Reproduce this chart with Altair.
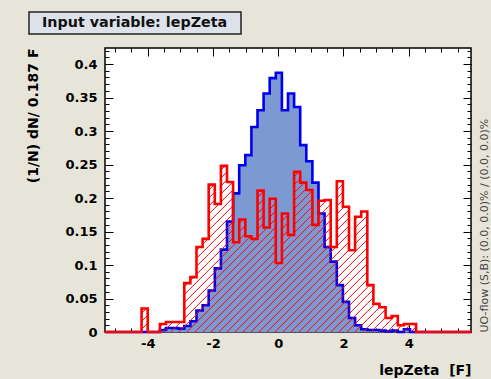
import altair as alt
import pandas as pd

# Histogram binning (60 bins of 0.187 F)
X_MIN = -5.31
BIN_WIDTH = 0.187
N_BINS = 60
X_MAX = X_MIN + BIN_WIDTH * N_BINS
Y_MAX = 0.424

WIDTH, HEIGHT = 366, 284

# Normalised bin contents, (1/N) dN per bin
signal = [
    0, 0, 0, 0, 0, 0, 0, 0, 0,
    0.003, 0.006, 0.006, 0.005, 0.009, 0.016, 0.032, 0.040, 0.062, 0.095,
    0.123, 0.165, 0.207, 0.249, 0.264, 0.306, 0.331, 0.356, 0.379, 0.387,
    0.331, 0.356, 0.336, 0.279, 0.255, 0.223, 0.177, 0.127, 0.105, 0.070,
    0.045, 0.021, 0.010, 0.004, 0.003, 0.003, 0.002, 0.001, 0.002, 0.0,
    0.004, 0.0,
    0, 0, 0, 0, 0, 0, 0, 0, 0,
]
background = [
    0, 0, 0, 0, 0, 0, 0.035, 0, 0,
    0.012, 0.015, 0.015, 0.015, 0.073, 0.082, 0.127, 0.139, 0.220, 0.191,
    0.248, 0.224, 0.134, 0.168, 0.143, 0.139, 0.211, 0.156, 0.199, 0.103,
    0.177, 0.145, 0.239, 0.223, 0.212, 0.160, 0.196, 0.197, 0.127, 0.225,
    0.187, 0.122, 0.172, 0.180, 0.070, 0.042, 0.037, 0.021, 0.024, 0.010,
    0.012, 0.012,
    0, 0, 0, 0, 0, 0, 0, 0, 0,
]
assert len(signal) == N_BINS and len(background) == N_BINS

x_major = [-4, -2, 0, 2, 4]
x_minor = [-5 + 0.5 * k for k in range(22)]
y_major = [0, 0.05, 0.1, 0.15, 0.2, 0.25, 0.3, 0.35, 0.4]
y_minor = [round(0.01 * k, 2) for k in range(43)]

title_text = "Input variable: lepZeta"
x_title = "lepZeta\u00a0\u00a0[F]"
y_title = "(1/N) dN/ 0.187 F"
flow_text = "UO-flow (S,B): (0.0, 0.0)% / (0.0, 0.0)%"

FONT = "DejaVu Sans"
SIG_FILL = "#7d99d1"
SIG_LINE = "#0000ee"
BKG_LINE = "#ff0000"

edges = [X_MIN + BIN_WIDTH * i for i in range(N_BINS + 1)]


def step_frame(values):
    rows = [{"x": edges[i], "y": v, "o": i} for i, v in enumerate(values)]
    rows.append({"x": edges[-1], "y": values[-1], "o": len(values)})
    return pd.DataFrame(rows)


# 45-degree hatching of the background histogram, clipped bin by bin
px_per_x = WIDTH / (X_MAX - X_MIN)
px_per_y = HEIGHT / Y_MAX
slope = px_per_x / px_per_y
spacing = 8.0 / px_per_x
segs = []
start = X_MIN - max(background) / slope - spacing
n_lines = int((X_MAX - start) / spacing) + 2
for i, h in enumerate(background):
    if h <= 0:
        continue
    a, b = edges[i], edges[i + 1]
    for k in range(n_lines):
        xk = start + k * spacing
        xs = max(a, xk)
        xe = min(b, xk + h / slope)
        if xe > xs:
            segs.append({"x": xs, "y": slope * (xs - xk),
                         "x2": xe, "y2": slope * (xe - xk)})
hatch = pd.DataFrame(segs)

x_scale = alt.Scale(domain=[X_MIN, X_MAX], nice=False, zero=False)
y_scale = alt.Scale(domain=[0, Y_MAX], nice=False, zero=False)


def axis(orient, values, size, **kw):
    return alt.Axis(orient=orient, values=values, tickSize=size, offset=-size,
                    domain=False, grid=False, tickColor="black", tickWidth=1,
                    **kw)


label_style = dict(labelFont=FONT, labelFontWeight="bold", labelFontSize=13,
                   labelColor="black", labelExpr="datum.value + ''")

x_bottom_major = axis("bottom", x_major, 8, labelPadding=5, title=x_title,
                      titleFont=FONT, titleFontWeight="bold", titleFontSize=14,
                      titleColor="black", titleAnchor="end", titlePadding=13,
                      **label_style)
y_left_major = axis("left", y_major, 8, labelPadding=8, title=y_title,
                    titleFont=FONT, titleFontWeight="bold", titleFontSize=14,
                    titleColor="black", titleAnchor="end", titleAlign="right",
                    titleAngle=270, titlePadding=24, **label_style)
x_bottom_minor = axis("bottom", x_minor, 4, labels=False)
y_left_minor = axis("left", y_minor, 4, labels=False)
x_top_major = axis("top", x_major, 8, labels=False)
y_right_major = axis("right", y_major, 8, labels=False, title=flow_text,
                     titleFont=FONT, titleFontSize=11, titleFontWeight="normal",
                     titleColor="#444444", titleAngle=270, titleAnchor="start",
                     titleAlign="left", titleBaseline="top", titlePadding=7)
x_top_minor = axis("top", x_minor, 4, labels=False)
y_right_minor = axis("right", y_minor, 4, labels=False)

sig_df = step_frame(signal)
bkg_df = step_frame(background)

sig_area = alt.Chart(sig_df).mark_area(
    interpolate="step-after", fill=SIG_FILL, stroke=SIG_FILL, strokeWidth=0.6
).encode(
    x=alt.X("x:Q", scale=x_scale, axis=x_bottom_major),
    y=alt.Y("y:Q", scale=y_scale, axis=y_left_major, stack=False),
)

sig_line = alt.Chart(sig_df).mark_line(
    interpolate="step-after", color=SIG_LINE, strokeWidth=2.6
).encode(
    x=alt.X("x:Q", scale=x_scale, axis=x_top_minor, title=None),
    y=alt.Y("y:Q", scale=y_scale, axis=y_right_minor, title=None),
    order="o:Q",
)

bkg_hatch = alt.Chart(hatch).mark_rule(color=BKG_LINE, strokeWidth=1).encode(
    x=alt.X("x:Q", scale=x_scale, axis=x_bottom_minor, title=None),
    y=alt.Y("y:Q", scale=y_scale, axis=y_left_minor, title=None),
    x2="x2:Q",
    y2="y2:Q",
)

bkg_line = alt.Chart(bkg_df).mark_line(
    interpolate="step-after", color=BKG_LINE, strokeWidth=2.6
).encode(
    x=alt.X("x:Q", scale=x_scale, axis=x_top_major, title=None),
    y=alt.Y("y:Q", scale=y_scale, axis=y_right_major),
    order="o:Q",
)

label_df = pd.DataFrame({"t": [title_text]})
title_box = alt.Chart(label_df).mark_rect(
    fill="#dde2ea", stroke="#222222", strokeWidth=1.5
).encode(
    x=alt.value(-76), x2=alt.value(136), y=alt.value(-36), y2=alt.value(-14)
)
title_label = alt.Chart(label_df).mark_text(
    font=FONT, fontWeight="bold", fontSize=14.3, align="left",
    baseline="middle", color="#111111"
).encode(x=alt.value(-63), y=alt.value(-25), text="t:N")

chart = alt.layer(
    sig_area, sig_line, bkg_hatch, bkg_line, title_box, title_label
).resolve_axis(
    x="independent", y="independent"
).properties(
    width=WIDTH,
    height=HEIGHT,
    autosize=alt.AutoSizeParams(type="none"),
    padding={"left": 105, "top": 48, "right": 20, "bottom": 47},
    background="#e7e5da",
).configure_view(
    stroke="black", strokeWidth=1.5, fill="white"
)

chart.save("out.html", embed_options={"renderer": "svg", "actions": False})
